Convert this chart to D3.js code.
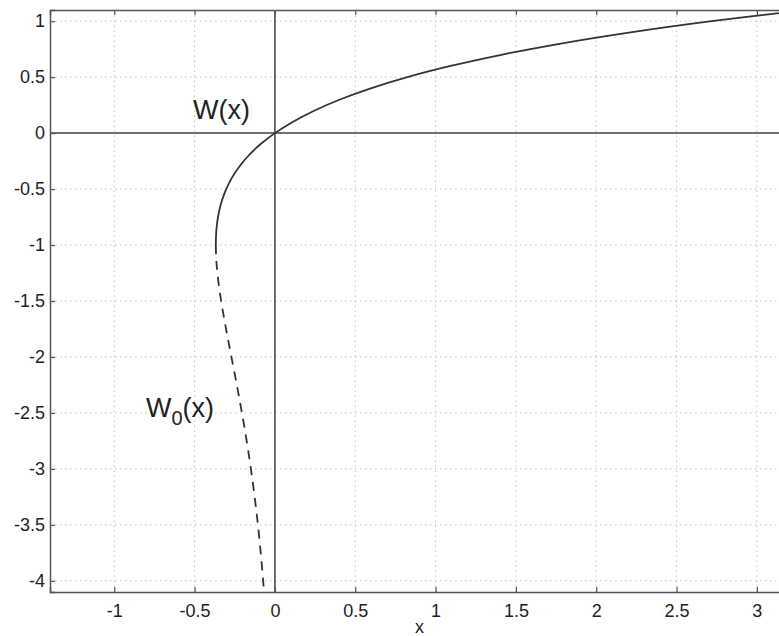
<!DOCTYPE html>
<html>
<head>
<meta charset="utf-8">
<script src="https://cdn.jsdelivr.net/npm/d3@7"></script>
<style>
  html, body { margin: 0; padding: 0; background: #fff; }
  svg { display: block; font-family: "Liberation Sans", Arial, sans-serif; }
</style>
</head>
<body>
<svg id="chart"></svg>
<script>
// principal branch, W >= -1 (solid)
var upperX = [-0.3679, -0.3674, -0.3659, -0.3633, -0.3595, -0.3476, -0.3293, -0.3033, -0.2681, -0.2222, -0.1637, -0.0905, 0, 0.1105, 0.2443, 0.4050, 0.5967, 0.8244, 1.0933, 1.4096, 1.7804, 2.2136, 2.7183, 3.3046];
var upperW = [-1, -0.95, -0.9, -0.85, -0.8, -0.7, -0.6, -0.5, -0.4, -0.3, -0.2, -0.1, 0, 0.1, 0.2, 0.3, 0.4, 0.5, 0.6, 0.7, 0.8, 0.9, 1.0, 1.1];

// lower branch, W <= -1 (dashed)
var lowerX = [-0.3679, -0.3662, -0.3614, -0.3452, -0.3230, -0.2975, -0.2707, -0.2371, -0.2052, -0.1758, -0.1494, -0.1261, -0.1057, -0.0882, -0.0733, -0.0679];
var lowerW = [-1, -1.1, -1.2, -1.4, -1.6, -1.8, -2.0, -2.25, -2.5, -2.75, -3.0, -3.25, -3.5, -3.75, -4.0, -4.1];

var xTicks = [-1, -0.5, 0, 0.5, 1, 1.5, 2, 2.5, 3];
var yTicks = [1, 0.5, 0, -0.5, -1, -1.5, -2, -2.5, -3, -3.5, -4];
var xDomain = [-1.4, 3.2];
var yDomain = [-4.1, 1.1];

var width = 779, height = 636;
var margin = {top: 10, left: 50, bottom: 44};
var plotW = 739, plotH = height - margin.top - margin.bottom;

var svg = d3.select('#chart')
	.attr('width', width)
	.attr('height', height);

var x = d3.scaleLinear().domain(xDomain).range([margin.left, margin.left + plotW]);
var y = d3.scaleLinear().domain(yDomain).range([margin.top + plotH, margin.top]);

var fmt = function(d) { return String(d); };

// dotted grid
var grid = svg.append('g').attr('class', 'grid');
grid.selectAll('.gx').data(xTicks).enter()
	.append('line')
	.attr('x1', function(d) { return x(d); })
	.attr('x2', function(d) { return x(d); })
	.attr('y1', y(yDomain[0]))
	.attr('y2', y(yDomain[1]))
	.attr('stroke', '#c4c4c4')
	.attr('stroke-width', 1)
	.attr('stroke-dasharray', '1.5,3.5');
grid.selectAll('.gy').data(yTicks).enter()
	.append('line')
	.attr('y1', function(d) { return y(d); })
	.attr('y2', function(d) { return y(d); })
	.attr('x1', x(xDomain[0]))
	.attr('x2', x(xDomain[1]))
	.attr('stroke', '#c4c4c4')
	.attr('stroke-width', 1)
	.attr('stroke-dasharray', '1.5,3.5');

// zero lines
svg.append('line')
	.attr('x1', x(0)).attr('x2', x(0))
	.attr('y1', y(yDomain[0])).attr('y2', y(yDomain[1]))
	.attr('stroke', '#444').attr('stroke-width', 1.5);
svg.append('line')
	.attr('y1', y(0)).attr('y2', y(0))
	.attr('x1', x(xDomain[0])).attr('x2', x(xDomain[1]))
	.attr('stroke', '#444').attr('stroke-width', 1.5);

// axes (ticks inward, box)
var xAxis = svg.append('g')
	.attr('transform', 'translate(0,' + y(yDomain[0]) + ')')
	.call(d3.axisBottom(x).tickValues(xTicks).tickSize(-5).tickPadding(12).tickFormat(fmt));
var xAxisTop = svg.append('g')
	.attr('transform', 'translate(0,' + y(yDomain[1]) + ')')
	.call(d3.axisTop(x).tickValues(xTicks).tickSize(-5).tickFormat(''));
var yAxis = svg.append('g')
	.attr('transform', 'translate(' + x(xDomain[0]) + ',0)')
	.call(d3.axisLeft(y).tickValues(yTicks).tickSize(-5).tickPadding(5).tickFormat(fmt));
var yAxisRight = svg.append('g')
	.attr('transform', 'translate(' + x(xDomain[1]) + ',0)')
	.call(d3.axisRight(y).tickValues(yTicks).tickSize(-5).tickFormat(''));

[xAxis, xAxisTop, yAxis, yAxisRight].forEach(function(g) {
	g.select('.domain').attr('stroke', '#555').attr('stroke-width', 1.5);
	g.selectAll('.tick line').attr('stroke', '#555').attr('stroke-width', 1.2);
	g.selectAll('.tick text')
		.attr('fill', '#222')
		.style('font-size', '18px')
		.style('font-family', '"Liberation Sans", Arial, sans-serif');
});

// curves
var line = d3.line()
	.x(function(d) { return x(d[0]); })
	.y(function(d) { return y(d[1]); })
	.curve(d3.curveCatmullRom);

var clip = svg.append('clipPath').attr('id', 'plotclip')
	.append('rect')
	.attr('x', margin.left).attr('y', margin.top)
	.attr('width', plotW).attr('height', plotH);

var upper = upperX.map(function(v, i) { return [v, upperW[i]]; });
var lower = lowerX.map(function(v, i) { return [v, lowerW[i]]; });

svg.append('path')
	.datum(upper)
	.attr('clip-path', 'url(#plotclip)')
	.attr('d', line)
	.attr('fill', 'none')
	.attr('stroke', '#333')
	.attr('stroke-width', 1.8);

svg.append('path')
	.datum(lower)
	.attr('clip-path', 'url(#plotclip)')
	.attr('d', line)
	.attr('fill', 'none')
	.attr('stroke', '#333')
	.attr('stroke-width', 1.8)
	.attr('stroke-dasharray', '9,7');

// labels
svg.append('text')
	.attr('x', 193)
	.attr('y', 119)
	.attr('fill', '#222')
	.style('font-size', '27px')
	.text('W(x)');

var w0 = svg.append('text')
	.attr('x', 146)
	.attr('y', 417)
	.attr('fill', '#222')
	.style('font-size', '27px');
w0.append('tspan').text('W');
w0.append('tspan').attr('dy', 8).style('font-size', '20px').text('0');
w0.append('tspan').attr('dy', -8).text('(x)');

svg.append('text')
	.attr('x', margin.left + plotW / 2)
	.attr('y', 633)
	.attr('text-anchor', 'middle')
	.attr('fill', '#222')
	.style('font-size', '18px')
	.text('x');
</script>
</body>
</html>
